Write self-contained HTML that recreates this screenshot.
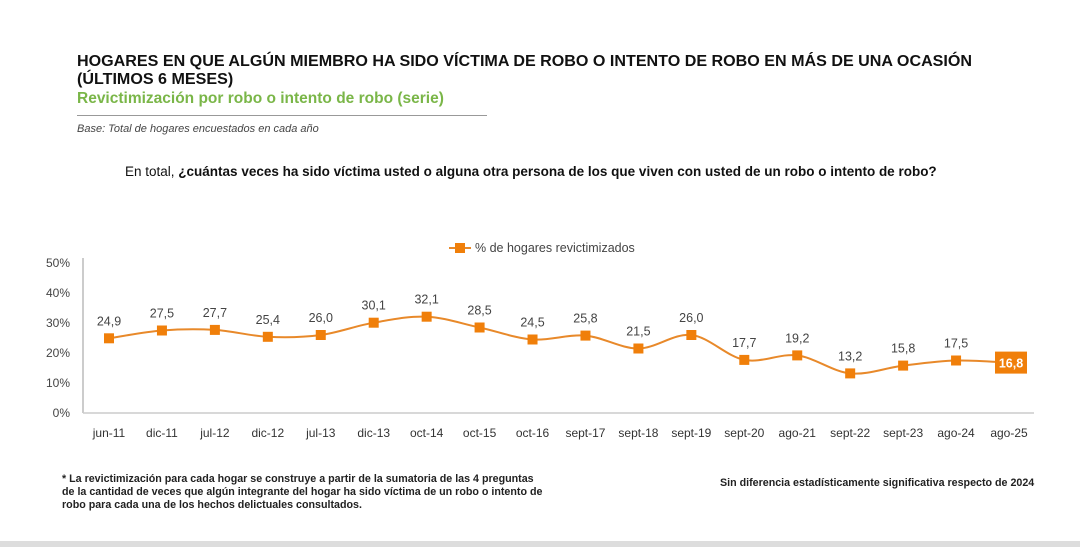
<!DOCTYPE html>
<html><head><meta charset="utf-8"><style>
body{margin:0;width:1080px;height:547px;background:#fff;font-family:"Liberation Sans",sans-serif;position:relative;overflow:hidden}
.t{position:absolute;white-space:nowrap}
</style></head><body>
<div class="t" style="left:77px;top:52px;font-size:16.1px;font-weight:bold;color:#111;line-height:18px">HOGARES EN QUE ALGÚN MIEMBRO HA SIDO VÍCTIMA DE ROBO O INTENTO DE ROBO EN MÁS DE UNA OCASIÓN<br>(ÚLTIMOS 6 MESES)</div>
<div class="t" style="left:77px;top:90px;font-size:15.5px;font-weight:bold;color:#7ab648">Revictimización por robo o intento de robo (serie)</div>
<div style="position:absolute;left:77px;top:115px;width:410px;height:1px;background:#999"></div>
<div class="t" style="left:77px;top:123px;font-size:11px;font-style:italic;color:#444">Base: Total de hogares encuestados en cada año</div>
<div class="t" style="left:125px;top:164px;font-size:13.5px;color:#111">En total, <b>¿cuántas veces ha sido víctima usted o alguna otra persona de los que viven con usted de un robo o intento de robo?</b></div>
<div class="t" style="left:62px;top:473px;font-size:10.7px;font-weight:bold;color:#222;line-height:13px">* La revictimización para cada hogar se construye a partir de la sumatoria de las 4 preguntas<br>de la cantidad de veces que algún integrante del hogar ha sido víctima de un robo o intento de<br>robo para cada una de los hechos delictuales consultados.</div>
<div class="t" style="left:720px;top:477px;font-size:10.7px;font-weight:bold;color:#222">Sin diferencia estadísticamente significativa respecto de 2024</div>
<div style="position:absolute;left:0;top:541px;width:1080px;height:6px;background:#ddd"></div>
<svg id="c" width="1080" height="547" style="position:absolute;left:0;top:0"></svg>
<script>
const categories=["jun-11","dic-11","jul-12","dic-12","jul-13","dic-13","oct-14","oct-15","oct-16","sept-17","sept-18","sept-19","sept-20","ago-21","sept-22","sept-23","ago-24","ago-25"];
const values=[24.9,27.5,27.7,25.4,26.0,30.1,32.1,28.5,24.5,25.8,21.5,26.0,17.7,19.2,13.2,15.8,17.5,16.8];
const yTicks=[0,10,20,30,40,50];
const svg=document.getElementById('c');const NS='http://www.w3.org/2000/svg';
function mk(t,a,txt){const e=document.createElementNS(NS,t);for(const k in a)e.setAttribute(k,a[k]);if(txt!=null)e.textContent=txt;svg.appendChild(e);return e;}
const x0=109,x1=1009,y0=413,y50=263;
const X=i=>x0+i*(x1-x0)/(categories.length-1);
const Y=v=>y0-(v/50)*(y0-y50);
let e=mk('line',{x1:83,y1:258,x2:83,y2:413,stroke:'#999'});

e=mk('line',{x1:83,y1:413,x2:1034,y2:413,stroke:'#ccc','stroke-width':1.5});

yTicks.forEach(t=>{const el=mk('text',{x:70,y:Y(t)+4,'text-anchor':'end','font-size':12,fill:'#444','font-family':'Liberation Sans'},t+'%');
});
categories.forEach((c,i)=>{const el=mk('text',{x:X(i),y:437,'text-anchor':'middle','font-size':12,fill:'#333','font-family':'Liberation Sans'},c);
});
const P=values.map((v,i)=>[X(i),Y(v)]);
let d='M'+P[0][0]+','+P[0][1];
for(let i=0;i<P.length-1;i++){const p0=P[Math.max(i-1,0)],p1=P[i],p2=P[i+1],p3=P[Math.min(i+2,P.length-1)];const k=6;
d+=` C${p1[0]+(p2[0]-p0[0])/k},${p1[1]+(p2[1]-p0[1])/k} ${p2[0]-(p3[0]-p1[0])/k},${p2[1]-(p3[1]-p1[1])/k} ${p2[0]},${p2[1]}`;}
e=mk('path',{d:d,fill:'none',stroke:'#e8892a','stroke-width':2});

values.forEach((v,i)=>{const last=i===values.length-1;
if(!last){const m=mk('rect',{x:X(i)-5,y:Y(v)-5,width:10,height:10,fill:'#f07f0a'});

const l=mk('text',{x:X(i),y:Y(v)-13,'text-anchor':'middle','font-size':12.5,fill:'#444','font-family':'Liberation Sans'},v.toFixed(1).replace('.',','));
}
else{const m=mk('rect',{x:X(i)-14,y:Y(v)-11,width:32,height:22,fill:'#f07f0a'});

const l=mk('text',{x:X(i)+2,y:Y(v)+5,'text-anchor':'middle','font-size':12.5,'font-weight':'bold',fill:'#fff','font-family':'Liberation Sans'},v.toFixed(1).replace('.',','));
}});
e=mk('line',{x1:449,y1:248,x2:471,y2:248,stroke:'#e8892a','stroke-width':2});

e=mk('rect',{x:455,y:243,width:10,height:10,fill:'#f07f0a'});

e=mk('text',{x:475,y:252,'font-size':12.5,fill:'#444','font-family':'Liberation Sans'},'% de hogares revictimizados');

</script>
</body></html>
